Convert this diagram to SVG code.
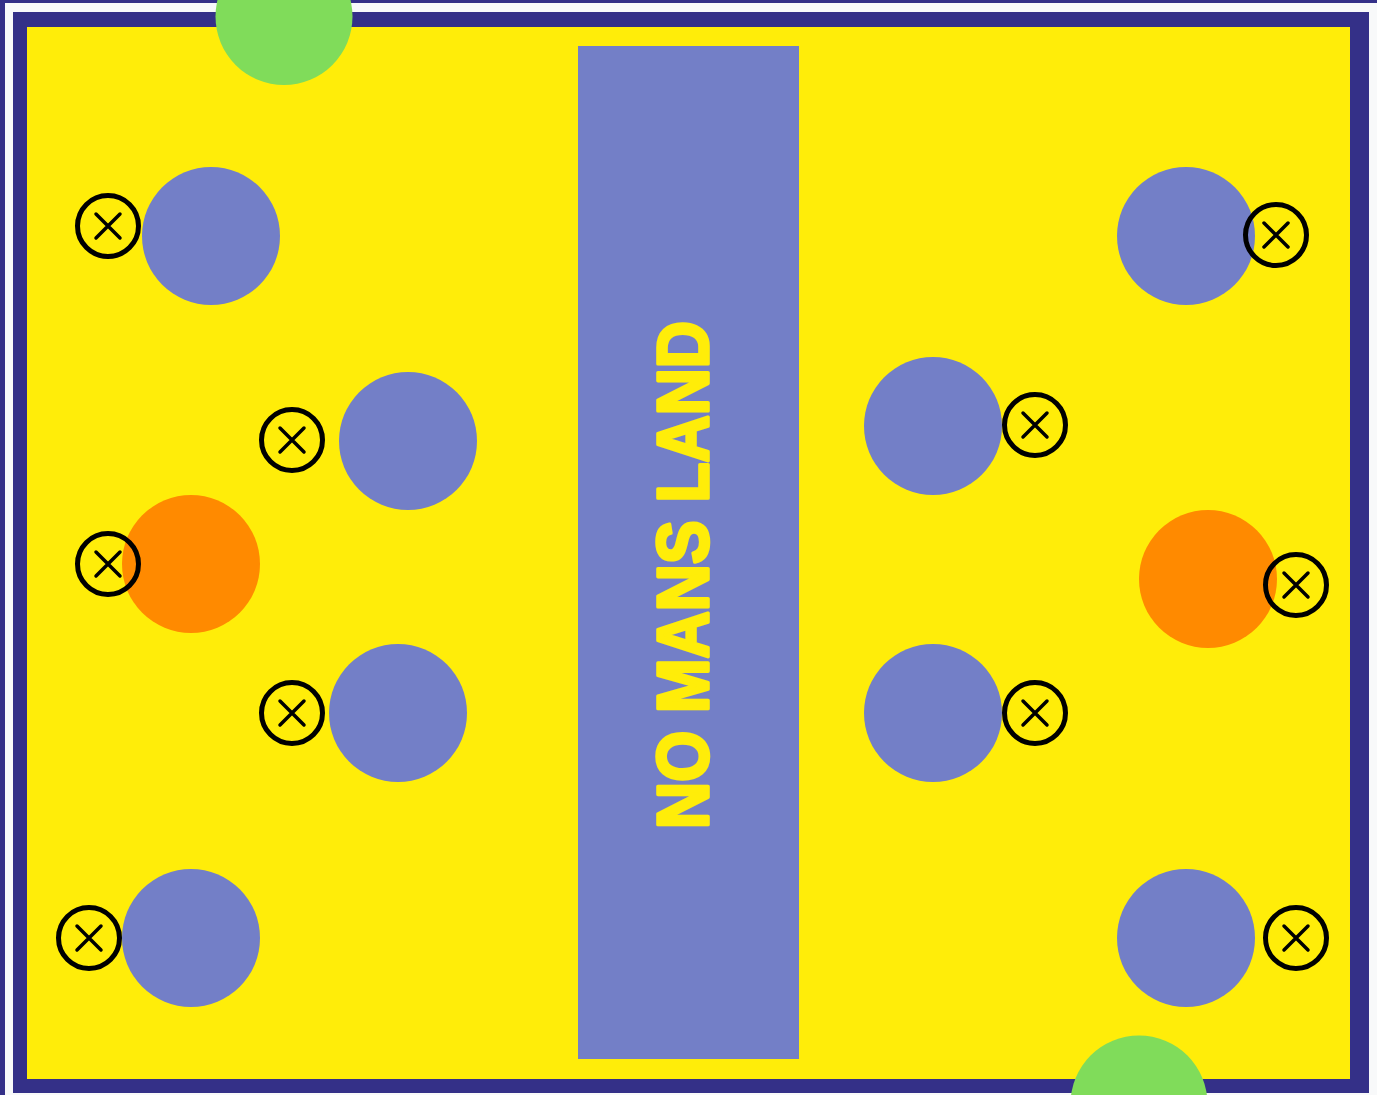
<svg xmlns="http://www.w3.org/2000/svg" width="1377" height="1095" viewBox="0 0 1377 1095">
<defs>
<style>
.player{fill:#737fc7}
.keeper{fill:#ff8a00}
.goal{fill:#80dc5a}
.mark circle{fill:none;stroke:#000;stroke-width:5}
.mark path{fill:none;stroke:#000;stroke-width:3.5;stroke-linecap:round}
.label{font-family:"Liberation Sans",Arial,sans-serif;font-weight:bold;font-size:72px;fill:#ffed09;stroke:#ffed09;stroke-width:3.5;stroke-linejoin:round}
</style>
<g id="x-mark" class="mark"><circle r="30.5"/><path d="M-12,-12L12,12M12,-12L-12,12"/></g>
</defs>
<rect x="0" y="0" width="1377" height="1095" fill="#343088"/>
<rect x="5" y="3" width="1372" height="1092" fill="#f8f9fa"/>
<rect x="13" y="12" width="1356" height="1081" fill="#343088"/>
<rect x="27" y="27" width="1323" height="1052" fill="#ffed09"/>
<g id="no-mans-land">
<rect x="578" y="46" width="221" height="1013" fill="#737fc7"/>
<text class="label" text-anchor="middle" transform="translate(708,575) rotate(-90)" textLength="508" lengthAdjust="spacingAndGlyphs">NO MANS LAND</text>
</g>
<g id="goal-top"><circle class="goal" cx="284" cy="16.5" r="68.5"/></g>
<g id="goal-bottom"><circle class="goal" cx="1139" cy="1104" r="68.5"/></g>
<g id="left-team">
<g id="l1"><circle class="player" cx="211" cy="236" r="69"/><use href="#x-mark" x="108" y="226"/></g>
<g id="l2"><circle class="player" cx="408" cy="441" r="69"/><use href="#x-mark" x="292" y="440"/></g>
<g id="l-keeper"><circle class="keeper" cx="191" cy="564" r="69"/><use href="#x-mark" x="108" y="564"/></g>
<g id="l3"><circle class="player" cx="398" cy="713" r="69"/><use href="#x-mark" x="292" y="713"/></g>
<g id="l4"><circle class="player" cx="191" cy="938" r="69"/><use href="#x-mark" x="89" y="938"/></g>
</g>
<g id="right-team">
<g id="r1"><circle class="player" cx="1186" cy="236" r="69"/><use href="#x-mark" x="1276" y="235"/></g>
<g id="r2"><circle class="player" cx="933" cy="426" r="69"/><use href="#x-mark" x="1035" y="425"/></g>
<g id="r-keeper"><circle class="keeper" cx="1208" cy="579" r="69"/><use href="#x-mark" x="1296" y="585"/></g>
<g id="r3"><circle class="player" cx="933" cy="713" r="69"/><use href="#x-mark" x="1035" y="713"/></g>
<g id="r4"><circle class="player" cx="1186" cy="938" r="69"/><use href="#x-mark" x="1296" y="938"/></g>
</g>
<g id="connectors"/>
</svg>
